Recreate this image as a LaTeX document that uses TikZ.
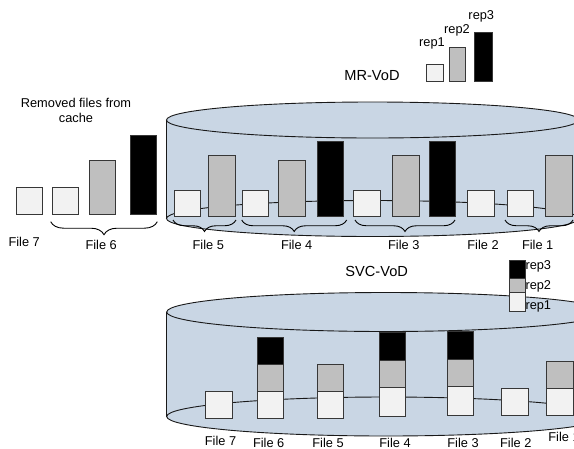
\documentclass[tikz,border=0pt]{standalone}
\usepackage{fontspec}
\setmainfont{Liberation Sans}
\usetikzlibrary{decorations.pathreplacing}
\definecolor{cylfill}{RGB}{201,214,228}
\definecolor{wfill}{RGB}{242,242,242}
\definecolor{gfill}{RGB}{191,191,191}
\definecolor{edgec}{RGB}{55,55,55}
\begin{document}
\begin{tikzpicture}[x=1pt,y=-1pt,
  bx/.style={draw=edgec, line width=0.9pt, minimum width=26.5pt, inner sep=0pt, outer sep=0pt, anchor=south west},
  wb/.style={bx, fill=wfill},
  gb/.style={bx, fill=gfill},
  kb/.style={bx, fill=black},
  lbl/.style={font=\fontsize{12.8}{14}\selectfont, inner sep=0pt, anchor=base},
  ttl/.style={font=\fontsize{14.6}{16}\selectfont, inner sep=0pt, anchor=base},
  leglbl/.style={font=\fontsize{12.8}{14}\selectfont, inner sep=0pt, anchor=base west},
  brc/.style={decorate, decoration={brace,mirror,amplitude=#1}, line width=0.9pt},
  cylline/.style={draw=black!90, line width=0.9pt}]
\useasboundingbox (0,0) rectangle (574,448);
\clip (0,0) rectangle (574,448);

% ---------- MR-VoD cylinder ----------
\fill[cylfill] (166.5,120) -- (166.5,218.5)
  arc[start angle=180,end angle=360,x radius=206pt,y radius=18pt]
  -- (578.5,120)
  arc[start angle=0,end angle=180,x radius=206pt,y radius=18pt] -- cycle;
\draw[cylline] (372.5,218.5) ellipse [x radius=206pt, y radius=18pt];
\draw[cylline] (166.5,120) -- (166.5,218.5);
\draw[cylline] (372.5,120) ellipse [x radius=206pt, y radius=18pt];

% ---------- SVC-VoD cylinder ----------
\fill[cylfill] (166.7,312) -- (166.7,416.5)
  arc[start angle=180,end angle=360,x radius=219.3pt,y radius=19.5pt]
  -- (605.3,312)
  arc[start angle=0,end angle=180,x radius=219.3pt,y radius=19.5pt] -- cycle;
\draw[cylline] (386,416.5) ellipse [x radius=219.3pt, y radius=19.5pt];
\draw[cylline] (166.7,312) -- (166.7,416.5);
\draw[cylline] (386,312) ellipse [x radius=219.3pt, y radius=19.5pt];

% ---------- removed files ----------
\node[lbl] (rm1) at (76,107.3) {Removed files from};
\node[lbl] (rm2) at (76,122) {cache};
\node[wb, minimum height=26.7pt] (r7w) at (16,214) {};
\node[wb, minimum height=26.7pt] (r6w) at (52.3,214) {};
\node[gb, minimum height=53.7pt] (r6g) at (89,214) {};
\node[kb, minimum height=78.3pt] (r6k) at (130.3,214) {};
\coordinate (b6a) at (50.7,221.7);
\coordinate (b6b) at (157.3,221.7);
\draw[brc=13pt] (b6a) -- (b6b);
\node[lbl] (l7) at (24.2,246.5) {File 7};
\node[lbl] (l6) at (101.2,249) {File 6};

% ---------- MR-VoD files ----------
\node[wb, minimum height=26.7pt] (m5w) at (174.3,216.7) {};
\node[gb, minimum height=61.7pt] (m5g) at (208.7,216.7) {};
\node[wb, minimum height=26.7pt] (m4w) at (242.3,216.7) {};
\node[gb, minimum height=56pt]   (m4g) at (278.7,216.7) {};
\node[kb, minimum height=75.4pt] (m4k) at (317.3,216.7) {};
\node[wb, minimum height=26.7pt] (m3w) at (353.5,216.7) {};
\node[gb, minimum height=61.7pt] (m3g) at (392.7,216.7) {};
\node[kb, minimum height=75.4pt] (m3k) at (429,216.7) {};
\node[wb, minimum height=26.7pt] (m2w) at (467.7,216.7) {};
\node[wb, minimum height=26.7pt] (m1w) at (507.3,216.7) {};
\node[gb, minimum height=61.7pt] (m1g) at (545.7,216.7) {};

\coordinate (b5a) at (173,220);   \coordinate (b5b) at (236,220);
\coordinate (b4a) at (241.7,220); \coordinate (b4b) at (346.7,220);
\coordinate (b3a) at (355,220);   \coordinate (b3b) at (455,220);
\coordinate (b1a) at (505,220);   \coordinate (b1b) at (573,220);
\draw[brc=11.5pt] (b5a) -- (b5b);
\draw[brc=11.5pt] (b4a) -- (b4b);
\draw[brc=11.5pt] (b3a) -- (b3b);
\draw[brc=11.5pt] (b1a) -- (b1b);

\node[lbl] (ml5) at (208.3,249) {File 5};
\node[lbl] (ml4) at (296.7,249) {File 4};
\node[lbl] (ml3) at (403.8,249) {File 3};
\node[lbl] (ml2) at (483,249) {File 2};
\node[lbl] (ml1) at (537.7,249) {File 1};

% ---------- MR-VoD legend ----------
\node[ttl] (mrt) at (372,80) {MR-VoD};
\node[wb, minimum width=16.7pt, minimum height=16.7pt] (mr1) at (426.3,81) {};
\node[gb, minimum width=16.3pt, minimum height=33.3pt] (mr2) at (449,81) {};
\node[kb, minimum width=17.3pt, minimum height=48.7pt] (mr3) at (474.7,81) {};
\node[lbl] (mr1l) at (432,46.5) {rep1};
\node[lbl] (mr2l) at (457,33.5) {rep2};
\node[lbl] (mr3l) at (481.3,19.5) {rep3};

% ---------- SVC-VoD legend ----------
\node[ttl] (svt) at (376.7,276.7) {SVC-VoD};
\node[wb, minimum width=16.4pt, minimum height=18.3pt] (sl1) at (509.3,311) {};
\node[gb, minimum width=16.4pt, minimum height=14.4pt] (sl2) at (sl1.north west) {};
\node[kb, minimum width=16.4pt, minimum height=18.3pt] (sl3) at (sl2.north west) {};
\node[leglbl] (sl3l) at (525.3,269.5) {rep3};
\node[leglbl] (sl2l) at (525.3,289) {rep2};
\node[leglbl] (sl1l) at (525.3,309.5) {rep1};

% ---------- SVC-VoD files ----------
\node[wb, minimum height=26.7pt] (s7w) at (205.7,418.3) {};

\node[wb, minimum height=26.7pt] (s6w) at (257.3,418.3) {};
\node[gb, minimum height=26.7pt] (s6g) at (s6w.north west) {};
\node[kb, minimum height=27.7pt] (s6k) at (s6g.north west) {};

\node[wb, minimum height=26.7pt] (s5w) at (317.3,418.3) {};
\node[gb, minimum height=27.4pt] (s5g) at (s5w.north west) {};

\node[wb, minimum height=29.4pt] (s4w) at (379.3,416.7) {};
\node[gb, minimum height=26.6pt] (s4g) at (s4w.north west) {};
\node[kb, minimum height=28pt]   (s4k) at (s4g.north west) {};

\node[wb, minimum height=29.3pt] (s3w) at (447,415.3) {};
\node[gb, minimum height=26.7pt] (s3g) at (s3w.north west) {};
\node[kb, minimum height=27.6pt] (s3k) at (s3g.north west) {};

\node[wb, minimum height=27pt] (s2w) at (501.7,415.3) {};

\node[wb, minimum height=27pt]   (s1w) at (546.7,415.3) {};
\node[gb, minimum height=26.6pt] (s1g) at (s1w.north west) {};

\node[lbl] (sl7) at (220.5,445.5) {File 7};
\node[lbl] (sl6) at (268.7,447) {File 6};
\node[lbl] (sl5) at (328,447) {File 5};
\node[lbl] (sl4) at (395,447) {File 4};
\node[lbl] (sl3x) at (463,447) {File 3};
\node[lbl] (sl2x) at (515.8,447) {File 2};
\node[lbl] (sl1x) at (564,441.7) {File 1};
\end{tikzpicture}
\end{document}
